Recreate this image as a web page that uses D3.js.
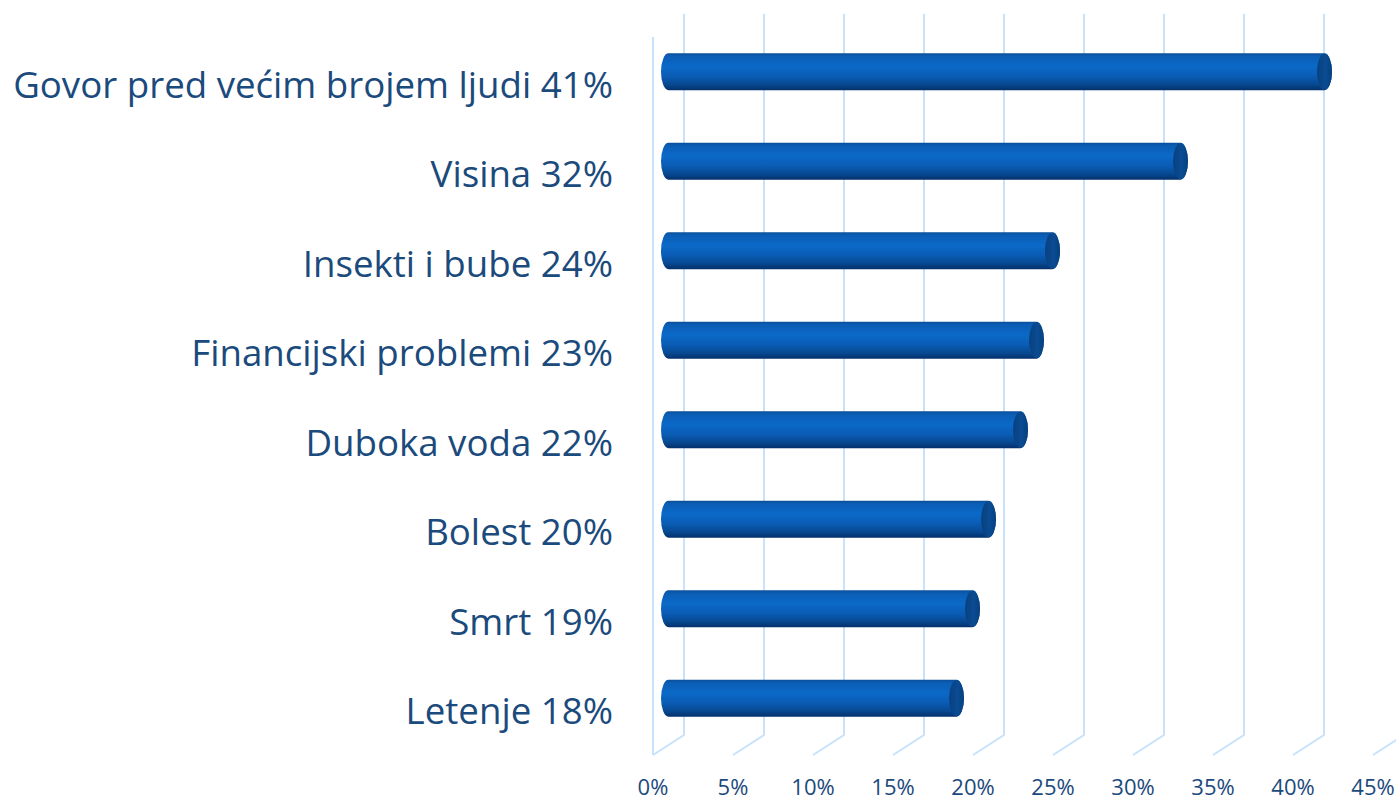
<!DOCTYPE html>
<html><head><meta charset="utf-8">
<script src="https://cdn.jsdelivr.net/npm/d3@7"></script>
<style>body{margin:0;background:#fff;}svg{display:block;}</style>
</head><body>
<svg id="c" width="1396" height="803"></svg>
<script>
const categories = ["Govor pred većim brojem ljudi","Visina","Insekti i bube","Financijski problemi","Duboka voda","Bolest","Smrt","Letenje"];
const values = [41,32,24,23,22,20,19,18];
const ticks = [0,5,10,15,20,25,30,35,40,45];
const tickLabels = ticks.map(t => t + "%");

const svg = d3.select("#c");
const textColor = "#1b4a7c";
const gridColor = "#c8e2fa";

// perspective geometry
const x0Front = 653, depthDx = 31;
const xFront = d3.scaleLinear().domain([0,45]).range([x0Front, x0Front + 720]);
const xBack = v => xFront(v) + depthDx;
const xMid = v => xFront(v) + depthDx/2;
const yBackTop = 14, yBackBottom = 735, yFront = 755, yFrontTop = 37;

const y = d3.scaleBand().domain(categories).range([27, 743]).paddingInner(0.587).paddingOuter(0.293);

const defs = svg.append("defs");
const g1 = defs.append("linearGradient").attr("id","body").attr("x1",0).attr("y1",0).attr("x2",0).attr("y2",1);
[[0,"#0a4f99"],[0.08,"#0b5db4"],[0.35,"#0b69c8"],[0.62,"#0a5cb5"],[0.85,"#074890"],[1,"#04306a"]]
  .forEach(([o,c]) => g1.append("stop").attr("offset",o).attr("stop-color",c));
const g2 = defs.append("linearGradient").attr("id","cap").attr("x1",0).attr("y1",0).attr("x2",1).attr("y2",0);
[[0,"#08417f"],[0.6,"#0a4b92"],[1,"#083f7c"]]
  .forEach(([o,c]) => g2.append("stop").attr("offset",o).attr("stop-color",c));

// grid
const grid = svg.append("g").attr("fill","none").attr("stroke",gridColor).attr("stroke-width",2);
grid.selectAll("path.g").data(ticks).join("path")
  .attr("d", t => `M${xBack(t)},${yBackTop}L${xBack(t)},${yBackBottom}L${xFront(t)},${yFront}`);
grid.append("line").attr("x1",xFront(0)).attr("x2",xFront(0)).attr("y1",yFrontTop).attr("y2",yFront);

// tick labels
svg.append("g").selectAll("text").data(ticks).join("text")
  .attr("x", t => xFront(t)).attr("y", 795)
  .attr("text-anchor","middle").attr("fill",textColor)
  .attr("font-family","'Open Sans', sans-serif").attr("font-size",22)
  .text((t,i) => tickLabels[i]);

// bars
const bh = y.bandwidth();
const rx = 7.5;
const bars = svg.append("g").selectAll("g").data(categories).join("g");
bars.append("path")
  .attr("fill","url(#body)")
  .attr("d", (c,i) => {
    const top = y(c), bot = top + bh, a = xMid(0), b = xMid(values[i]);
    return `M${a},${top}L${b},${top}A${rx},${bh/2} 0 0 1 ${b},${bot}L${a},${bot}A${rx},${bh/2} 0 0 1 ${a},${top}Z`;
  });
bars.append("ellipse")
  .attr("fill","url(#cap)")
  .attr("cx",(c,i) => xMid(values[i])).attr("cy", c => y(c) + bh/2)
  .attr("rx", rx).attr("ry", bh/2 - 0.5);

// category labels
const labels = svg.append("g").selectAll("text").data(categories).join("text")
  .attr("x", 613).attr("y", c => y(c) + bh/2 + 13)
  .attr("dy","0.36em")
  .attr("text-anchor","end").attr("fill",textColor)
  .attr("font-family","'Open Sans', sans-serif").attr("font-size",33)
  .text((c,i) => `${c} ${values[i]}%`);
const longest = labels.nodes()[0].getComputedTextLength();
labels.attr("font-size", 33 * 600 / longest);
</script>
</body></html>
